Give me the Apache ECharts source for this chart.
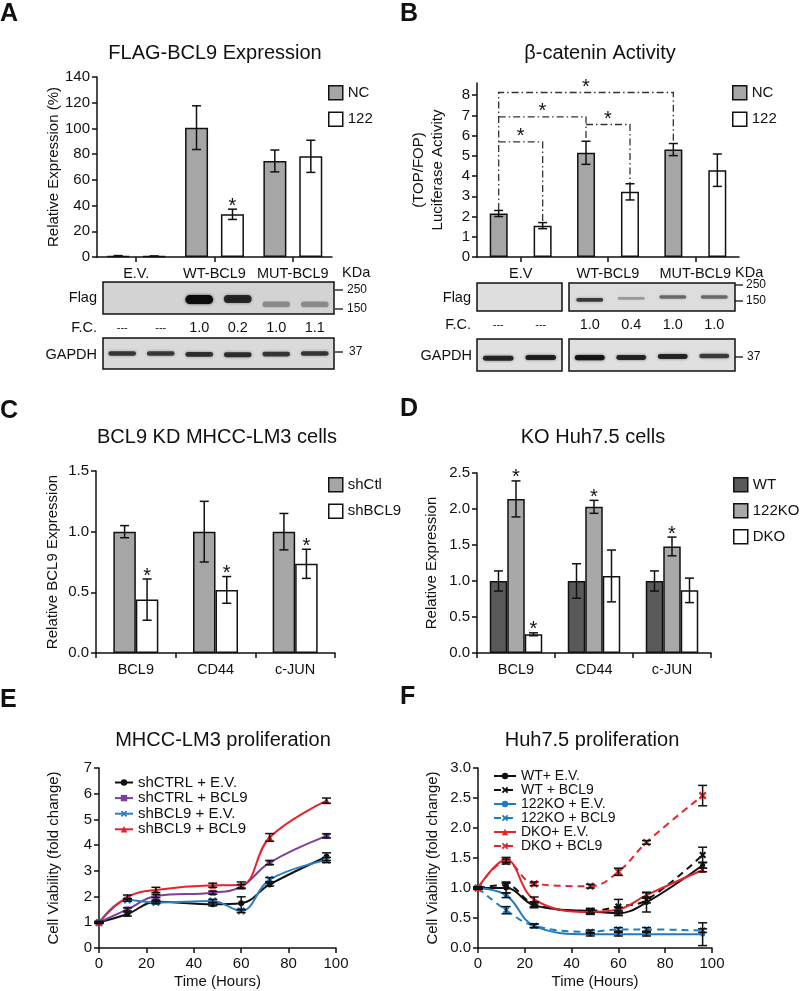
<!DOCTYPE html>
<html><head><meta charset="utf-8">
<script src="https://cdn.jsdelivr.net/npm/echarts@6/dist/echarts.min.js"></script>
<style>html,body{margin:0;padding:0;background:#fff}#c{width:800px;height:991px}</style>
</head><body><div id="c"></div>
<script>
const FONT = "'Liberation Sans', Arial, Helvetica, sans-serif";
const TXT = '#111';

// ---------- Panel A ----------
const catsA = ['E.V.', 'WT-BCL9', 'MUT-BCL9'];
const aNC = [0.8, 100.6, 74.7];
const aNCErr = [0.3, 17, 8.5];
const a122 = [0.6, 33.2, 78.3];
const a122Err = [0.2, 4, 12.5];
const a122Sig = [0, 1, 0];
const blotLanesA = ['1', '2', '3', '4', '5', '6'];
const blotAFlag = [0, 0, 1.0, 0.8, 0.32, 0.32];
const blotAFlagPos = [0.45, 0.45, 0.45, 0.47, 0.3, 0.3];
const blotAFC = ['---', '---', '1.0', '0.2', '1.0', '1.1'];
const blotAGapdh = [0.72, 0.7, 0.76, 0.76, 0.72, 0.72];
const blotAGapdhPos = [0.5, 0.5, 0.47, 0.46, 0.48, 0.5];

// ---------- Panel B ----------
const catsB = ['E.V', 'WT-BCL9', 'MUT-BCL9'];
const bNC = [2.15, 5.15, 5.31];
const bNCErr = [0.15, 0.57, 0.3];
const b122 = [1.55, 3.22, 4.29];
const b122Err = [0.15, 0.4, 0.8];
const yTicksB = [0, 1, 2, 3, 4, 5, 6, 7, 8];
// [leftCat, leftBar, leftLow, rightCat, rightBar, rightLow, height]
const bracketsB = [
  [0, 0, 2.32, 2, 0, 5.62, 8.13],
  [0, 0, 6.93, 1, 0, 5.73, 6.93],
  [0, 0, 5.69, 0, 1, 1.7, 5.69],
  [1, 0, 6.55, 1, 1, 3.64, 6.55]
];
const blotLanesB1 = ['1', '2'];
const blotLanesB2 = ['3', '4', '5', '6'];
const blotBFlag1 = [0, 0];
const blotBFlag2 = [0.7, 0.3, 0.5, 0.5];
const blotBFlag2Pos = [0.4, 0.45, 0.5, 0.5];
const blotBFC1 = ['---', '---'];
const blotBFC2 = ['1.0', '0.4', '1.0', '1.0'];
const blotBGapdh1 = [0.82, 0.85];
const blotBGapdh2 = [0.92, 0.82, 0.82, 0.7];

// ---------- Panel C ----------
const catsC = ['BCL9', 'CD44', 'c-JUN'];
const cCtl = [1.0, 1.0, 1.0];
const cCtlErr = [0.05, 0.25, 0.15];
const cKD = [0.44, 0.52, 0.735];
const cKDErr = [0.17, 0.11, 0.12];
const cKDSig = [1, 1, 1];

// ---------- Panel D ----------
const catsD = ['BCL9', 'CD44', 'c-JUN'];
const dWT = [1.0, 1.0, 1.0];
const dWTErr = [0.14, 0.24, 0.14];
const dKO = [2.14, 2.03, 1.48];
const dKOErr = [0.25, 0.09, 0.13];
const dKOSig = [1, 1, 1];
const dDKO = [0.26, 1.07, 0.87];
const dDKOErr = [0.02, 0.36, 0.17];
const dDKOSig = [1, 0, 0];

// ---------- Panel E ----------
const timesE = [0, 12, 24, 48, 60, 72, 96];
const eCtrlEV = [1.0, 1.32, 1.8, 1.7, 1.74, 2.47, 3.55];
const eCtrlEVErr = [0.03, 0.08, 0.06, 0.06, 0.25, 0.06, 0.15];
const eCtrlBCL9 = [1.0, 1.5, 2.02, 2.15, 2.39, 3.32, 4.36];
const eCtrlBCL9Err = [0.03, 0.06, 0.06, 0.06, 0.08, 0.08, 0.08];
const eKDEV = [0.98, 1.87, 1.77, 1.83, 1.44, 2.66, 3.42];
const eKDEVErr = [0.03, 0.05, 0.05, 0.06, 0.06, 0.08, 0.1];
const eKDBCL9 = [1.0, 1.98, 2.26, 2.44, 2.45, 4.3, 5.73];
const eKDBCL9Err = [0.03, 0.08, 0.1, 0.08, 0.12, 0.15, 0.1];

// ---------- Panel F ----------
const timesF = [0, 12, 24, 48, 60, 72, 96];
const fWTEV = [1.0, 1.0, 0.71, 0.61, 0.58, 0.76, 1.38];
const fWTEVErr = [0.02, 0.08, 0.04, 0.04, 0.04, 0.16, 0.05];
const fWTBCL9 = [1.0, 1.05, 0.73, 0.62, 0.69, 0.8, 1.55];
const fWTBCL9Err = [0.02, 0.05, 0.04, 0.04, 0.12, 0.05, 0.13];
const f122EV = [1.0, 0.88, 0.37, 0.23, 0.23, 0.23, 0.23];
const f122EVErr = [0.02, 0.04, 0.03, 0.03, 0.03, 0.03, 0.19];
const f122BCL9 = [1.0, 0.63, 0.37, 0.27, 0.31, 0.31, 0.29];
const f122BCL9Err = [0.02, 0.06, 0.03, 0.03, 0.03, 0.03, 0.03];
const fDKOEV = [1.0, 1.47, 0.81, 0.6, 0.64, 0.88, 1.3];
const fDKOEVErr = [0.02, 0.04, 0.04, 0.04, 0.04, 0.05, 0.03];
const fDKOBCL9 = [1.0, 1.44, 1.07, 1.03, 1.27, 1.76, 2.54];
const fDKOBCL9Err = [0.02, 0.04, 0.03, 0.03, 0.06, 0.03, 0.17];

// ================= helpers =================
const axisLineStyle = { show: true, lineStyle: { color: TXT, width: 1.5 } };
const axisTickStyle = { show: true, length: 5, lineStyle: { color: TXT, width: 1.5 } };
function labelStyle(extra) {
  return Object.assign({ color: TXT, fontSize: 15, fontFamily: FONT, margin: 7 }, extra || {});
}
const nameStyle = { color: TXT, fontSize: 15, fontFamily: FONT };

function catX(gi, data, align) {
  return {
    type: 'category', gridIndex: gi, data: data,
    axisLine: axisLineStyle,
    axisTick: Object.assign({}, axisTickStyle, { alignWithLabel: !!align }),
    axisLabel: labelStyle({ fontSize: 14.5, margin: 9, interval: 0, hideOverlap: false }),
    splitLine: { show: false }
  };
}
function valY(gi, min, max, interval, name, gap, fixed) {
  return {
    type: 'value', gridIndex: gi, min: min, max: max, interval: interval,
    axisLine: axisLineStyle, axisTick: axisTickStyle,
    axisLabel: labelStyle(fixed ? { formatter: v => v.toFixed(1) } : {}),
    splitLine: { show: false },
    name: name, nameLocation: 'middle', nameGap: gap, nameTextStyle: nameStyle
  };
}
function hiddenCat(gi, data) {
  return { type: 'category', gridIndex: gi, data: data, show: false };
}
function hiddenVal(gi) {
  return { type: 'value', gridIndex: gi, min: 0, max: 1, show: false };
}

function errorSeries(gi, xs, values, errs, offset, sig, starGap) {
  return {
    type: 'custom', xAxisIndex: gi, yAxisIndex: gi, z: 5, silent: true,
    data: values.map((v, i) => [xs ? xs[i] : i, v, errs[i], sig ? sig[i] : 0]),
    encode: { x: 0, y: 1 },
    renderItem: function (params, api) {
      const xv = api.value(0), v = api.value(1), e = api.value(2), s = api.value(3);
      const top = api.coord([xv, v + e]);
      const bot = api.coord([xv, Math.max(0, v - e)]);
      const x = top[0] + offset;
      const cw = 4.5;
      const st = { stroke: TXT, lineWidth: 1.5 };
      const ch = [];
      if (e > 0) {
        ch.push({ type: 'line', shape: { x1: x, y1: top[1], x2: x, y2: bot[1] }, style: st });
        ch.push({ type: 'line', shape: { x1: x - cw, y1: top[1], x2: x + cw, y2: top[1] }, style: st });
        ch.push({ type: 'line', shape: { x1: x - cw, y1: bot[1], x2: x + cw, y2: bot[1] }, style: st });
      }
      if (s) {
        ch.push({ type: 'text', x: x, y: top[1] - (starGap || 3),
          style: { text: '*', fontSize: 20, fontFamily: FONT, fill: TXT, align: 'center', verticalAlign: 'middle' } });
      }
      return { type: 'group', children: ch };
    }
  };
}

function barSeries(gi, name, data, color, width, gap) {
  return {
    type: 'bar', name: name, xAxisIndex: gi, yAxisIndex: gi, data: data,
    barWidth: width, barGap: gap,
    itemStyle: { color: color, borderColor: TXT, borderWidth: 1.5 }
  };
}

function blotSeries(gi, intens, pos, baseH, wFrac, fc) {
  return {
    type: 'custom', xAxisIndex: gi, yAxisIndex: gi, silent: true, z: 3,
    data: intens.map((v, i) => [i, v, pos ? pos[i] : 0.45]),
    encode: { x: 0, y: 2 },
    renderItem: function (params, api) {
      const i = params.dataIndex, v = api.value(1), p = api.value(2);
      const c = api.coord([i, p]);
      const w = api.size([1, 0])[0] * wFrac;
      const ch = [];
      if (v > 0) {
        const h = baseH * (0.45 + 0.55 * v);
        ch.push({ type: 'rect', shape: { x: c[0] - w / 2, y: c[1] - h / 2, width: w, height: h, r: h / 2 },
          style: { fill: 'rgba(12,12,12,' + Math.min(1, v) + ')', shadowBlur: 3, shadowColor: 'rgba(0,0,0,' + (0.7 * v) + ')' } });
      }
      if (fc) {
        const b = api.coord([i, 0]);
        ch.push({ type: 'text', x: c[0], y: b[1] + 14,
          style: { text: fc[i], fontSize: fc[i] === '---' ? 11 : 14.5, fontFamily: FONT, fill: TXT, align: 'center', verticalAlign: 'middle' } });
      }
      return { type: 'group', children: ch };
    }
  };
}

function bracketSeries(gi, brackets, offsets) {
  return {
    type: 'custom', xAxisIndex: gi, yAxisIndex: gi, silent: true, z: 6,
    data: brackets.map((b, i) => [b[0], b[6], i]),
    encode: { x: 0, y: 1 },
    renderItem: function (params, api) {
      const b = brackets[params.dataIndex];
      const l = api.coord([b[0], b[2]]), r = api.coord([b[3], b[5]]), h = api.coord([b[0], b[6]]);
      const xl = l[0] + offsets[b[1]], xr = r[0] + offsets[b[4]];
      const pts = [[xl, l[1]], [xl, h[1]], [xr, h[1]], [xr, r[1]]];
      return { type: 'group', children: [
        { type: 'polyline', shape: { points: pts },
          style: { stroke: '#333', lineWidth: 1.3, fill: null, lineDash: [7, 3, 1.5, 3] } },
        { type: 'text', x: (xl + xr) / 2, y: h[1] - 5,
          style: { text: '*', fontSize: 20, fontFamily: FONT, fill: TXT, align: 'center', verticalAlign: 'middle' } }
      ] };
    }
  };
}

const xSym = 'path://M2,0 L5,3 L8,0 L10,2 L7,5 L10,8 L8,10 L5,7 L2,10 L0,8 L3,5 L0,2 Z';
function lineSeries(gi, name, xs, ys, color, symbol, size, dashed) {
  return {
    type: 'line', name: name, xAxisIndex: gi, yAxisIndex: gi,
    data: ys.map((v, i) => [xs[i], v]),
    smooth: 0.4, symbol: symbol, symbolSize: size, showAllSymbol: true,
    lineStyle: { color: color, width: 2, type: dashed ? [7, 5] : 'solid' },
    itemStyle: { color: color }
  };
}

// ================= graphics =================
function T(text, x, y, size, opts) {
  return Object.assign({ type: 'text', x: x, y: y, silent: true,
    style: Object.assign({ text: text, fontSize: size, fontFamily: FONT, fill: TXT, align: 'left', verticalAlign: 'middle' }, opts || {}) });
}
function dash(x1, x2, y) {
  return { type: 'line', silent: true, shape: { x1: x1, y1: y, x2: x2, y2: y }, style: { stroke: TXT, lineWidth: 1.3 } };
}
const graphics = [
  T('A', 0, 14, 25, { fontWeight: 'bold' }),
  T('B', 400, 14, 25, { fontWeight: 'bold' }),
  T('C', 0, 411, 25, { fontWeight: 'bold' }),
  T('D', 400, 409, 25, { fontWeight: 'bold' }),
  T('E', 0, 700, 25, { fontWeight: 'bold' }),
  T('F', 400, 697, 25, { fontWeight: 'bold' }),
  T('FLAG-BCL9 Expression', 215, 53, 20, { align: 'center' }),
  T('β-catenin Activity', 600, 53, 20, { align: 'center' }),
  T('BCL9 KD MHCC-LM3 cells', 217, 437, 20, { align: 'center' }),
  T('KO Huh7.5 cells', 593, 437, 20, { align: 'center' }),
  T('MHCC-LM3 proliferation', 223, 740, 20, { align: 'center' }),
  T('Huh7.5 proliferation', 592, 740, 20, { align: 'center' }),
  T('KDa', 342, 273, 14.5),
  T('KDa', 735, 273, 14.5),
  // blot labels A
  T('Flag', 97, 298, 14.5, { align: 'right' }),
  T('F.C.', 97, 328, 14.5, { align: 'right' }),
  T('GAPDH', 97, 355, 14.5, { align: 'right' }),
  dash(335, 343, 290), T('250', 347, 290, 12),
  dash(335, 343, 309), T('150', 347, 309, 12),
  dash(335, 343, 352), T('37', 349, 352, 12),
  // blot labels B
  T('Flag', 471, 298, 14.5, { align: 'right' }),
  T('F.C.', 471, 325, 14.5, { align: 'right' }),
  T('GAPDH', 472, 356, 14.5, { align: 'right' }),
  dash(735, 743, 285), T('250', 746, 285, 12),
  dash(735, 743, 301), T('150', 746, 301, 12),
  dash(735, 743, 357), T('37', 747, 357, 12)
];

// ================= option =================
const blotGrid = (l, t, w, h, bg) => ({ left: l, top: t, width: w, height: h, show: true,
  backgroundColor: bg, borderColor: TXT, borderWidth: 1.5 });

const legendBase = {
  orient: 'vertical', itemWidth: 14, itemHeight: 14, itemGap: 11, icon: 'rect', padding: 0,
  itemStyle: { borderColor: TXT, borderWidth: 1.5 },
  textStyle: { fontSize: 15, fontFamily: FONT, color: TXT, lineHeight: 14 }, selectedMode: false
};
const lineLegendBase = {
  orient: 'vertical', itemHeight: 8, selectedMode: false, padding: 0,
  textStyle: { fontSize: 15, fontFamily: FONT, color: TXT }
};

const option = {
  animation: false,
  backgroundColor: '#fff',
  textStyle: { fontFamily: FONT },
  grid: [
    { left: 97, top: 77, width: 235, height: 180 },   // A
    { left: 477, top: 83, width: 262, height: 174 },  // B
    { left: 96, top: 471, width: 239, height: 182 },  // C
    { left: 477, top: 473, width: 234, height: 180 }, // D
    { left: 99, top: 768, width: 237, height: 180 },  // E
    { left: 478, top: 768, width: 234, height: 180 }, // F
    blotGrid(103, 282, 231, 32, '#d3d3d3'),          // A flag
    blotGrid(103, 338, 231, 31, '#dadada'),          // A gapdh
    blotGrid(477, 283, 85, 28, '#dedede'),           // B flag 1
    blotGrid(569, 283, 166, 28, '#dddddd'),          // B flag 2
    blotGrid(477, 339, 85, 32, '#e0e0e0'),           // B gapdh 1
    blotGrid(569, 339, 166, 32, '#e0e0e0')           // B gapdh 2
  ],
  xAxis: [
    catX(0, catsA, true),
    catX(1, catsB, true),
    catX(2, catsC, false),
    catX(3, catsD, false),
    { type: 'value', gridIndex: 4, min: 0, max: 100, interval: 20, axisLine: axisLineStyle, axisTick: axisTickStyle,
      axisLabel: labelStyle({ margin: 8 }), splitLine: { show: false },
      name: 'Time (Hours)', nameLocation: 'middle', nameGap: 26, nameTextStyle: nameStyle },
    { type: 'value', gridIndex: 5, min: 0, max: 100, interval: 20, axisLine: axisLineStyle, axisTick: axisTickStyle,
      axisLabel: labelStyle({ margin: 8 }), splitLine: { show: false },
      name: 'Time (Hours)', nameLocation: 'middle', nameGap: 26, nameTextStyle: nameStyle },
    hiddenCat(6, blotLanesA), hiddenCat(7, blotLanesA),
    hiddenCat(8, blotLanesB1), hiddenCat(9, blotLanesB2),
    hiddenCat(10, blotLanesB1), hiddenCat(11, blotLanesB2)
  ],
  yAxis: [
    valY(0, 0, 140, 20, 'Relative Expression (%)', 35),
    {
      type: 'value', gridIndex: 1, min: 0, max: 8.6,
      axisLine: axisLineStyle,
      axisTick: Object.assign({}, axisTickStyle, { customValues: yTicksB }),
      axisLabel: labelStyle({ customValues: yTicksB }),
      splitLine: { show: false },
      name: '(TOP/FOP)\nLuciferase Activity', nameLocation: 'middle', nameGap: 30,
      nameTextStyle: Object.assign({}, nameStyle, { lineHeight: 19 })
    },
    valY(2, 0, 1.5, 0.5, 'Relative BCL9 Expression', 36, true),
    valY(3, 0, 2.5, 0.5, 'Relative Expression', 38, true),
    valY(4, 0, 7, 1, 'Cell Viability (fold change)', 38),
    valY(5, 0, 3, 0.5, 'Cell Viability (fold change)', 38, true),
    hiddenVal(6), hiddenVal(7), hiddenVal(8), hiddenVal(9), hiddenVal(10), hiddenVal(11)
  ],
  legend: [
    Object.assign({}, legendBase, { data: ['NC', '122'], left: 328, top: 85 }),
    Object.assign({}, legendBase, { data: ['NC', '122'], left: 732, top: 85 }),
    Object.assign({}, legendBase, { data: ['shCtl', 'shBCL9'], left: 328, top: 477 }),
    Object.assign({}, legendBase, { data: ['WT', '122KO', 'DKO'], left: 733, top: 477, itemGap: 10.5 }),
    Object.assign({}, lineLegendBase, { data: ['shCTRL + E.V.', 'shCTRL + BCL9', 'shBCL9 + E.V.', 'shBCL9 + BCL9'],
      left: 114, top: 775, itemWidth: 18, itemGap: 0.6, textStyle: { fontSize: 15, fontFamily: FONT, color: TXT, lineHeight: 15 } }),
    Object.assign({}, lineLegendBase, { data: ['WT+ E.V.', 'WT + BCL9', '122KO + E.V.', '122KO + BCL9', 'DKO+ E.V.', 'DKO + BCL9'],
      left: 493, top: 769, itemWidth: 22, itemGap: 0, textStyle: { fontSize: 14, fontFamily: FONT, color: TXT, lineHeight: 13.8 } })
  ],
  graphic: graphics,
  series: [
    // A
    barSeries(0, 'NC', aNC, '#a6a6a6', 23, '56%'),
    barSeries(0, '122', a122, '#ffffff', 23, '56%'),
    errorSeries(0, null, aNC, aNCErr, -18),
    errorSeries(0, null, a122, a122Err, 18, a122Sig),
    // B
    barSeries(1, 'NC', bNC, '#a6a6a6', 18, '144%'),
    barSeries(1, '122', b122, '#ffffff', 18, '144%'),
    errorSeries(1, null, bNC, bNCErr, -22),
    errorSeries(1, null, b122, b122Err, 22),
    bracketSeries(1, bracketsB, [-22, 22]),
    // C
    barSeries(2, 'shCtl', cCtl, '#a6a6a6', 22.5, '0%'),
    barSeries(2, 'shBCL9', cKD, '#ffffff', 22.5, '0%'),
    errorSeries(2, null, cCtl, cCtlErr, -11.25),
    errorSeries(2, null, cKD, cKDErr, 11.25, cKDSig),
    // D
    barSeries(3, 'WT', dWT, '#595959', 17.5, '0%'),
    barSeries(3, '122KO', dKO, '#a8a8a8', 17.5, '0%'),
    barSeries(3, 'DKO', dDKO, '#ffffff', 17.5, '0%'),
    errorSeries(3, null, dWT, dWTErr, -17.5),
    errorSeries(3, null, dKO, dKOErr, 0, dKOSig),
    errorSeries(3, null, dDKO, dDKOErr, 17.5, dDKOSig),
    // E
    lineSeries(4, 'shCTRL + E.V.', timesE, eCtrlEV, '#111111', 'circle', 6),
    lineSeries(4, 'shCTRL + BCL9', timesE, eCtrlBCL9, '#7b3f9e', 'rect', 6),
    lineSeries(4, 'shBCL9 + E.V.', timesE, eKDEV, '#2b80c3', xSym, 8),
    lineSeries(4, 'shBCL9 + BCL9', timesE, eKDBCL9, '#e8222a', 'triangle', 7),
    errorSeries(4, timesE, eCtrlEV, eCtrlEVErr, 0),
    errorSeries(4, timesE, eCtrlBCL9, eCtrlBCL9Err, 0),
    errorSeries(4, timesE, eKDEV, eKDEVErr, 0),
    errorSeries(4, timesE, eKDBCL9, eKDBCL9Err, 0),
    // F
    lineSeries(5, 'WT+ E.V.', timesF, fWTEV, '#111111', 'circle', 5),
    lineSeries(5, 'WT + BCL9', timesF, fWTBCL9, '#111111', xSym, 7, true),
    lineSeries(5, '122KO + E.V.', timesF, f122EV, '#1f7bc2', 'circle', 5),
    lineSeries(5, '122KO + BCL9', timesF, f122BCL9, '#1f7bc2', xSym, 7, true),
    lineSeries(5, 'DKO+ E.V.', timesF, fDKOEV, '#e52329', 'triangle', 6),
    lineSeries(5, 'DKO + BCL9', timesF, fDKOBCL9, '#e52329', xSym, 8, true),
    errorSeries(5, timesF, fWTEV, fWTEVErr, 0),
    errorSeries(5, timesF, fWTBCL9, fWTBCL9Err, 0),
    errorSeries(5, timesF, f122EV, f122EVErr, 0),
    errorSeries(5, timesF, f122BCL9, f122BCL9Err, 0),
    errorSeries(5, timesF, fDKOEV, fDKOEVErr, 0),
    errorSeries(5, timesF, fDKOBCL9, fDKOBCL9Err, 0),
    // blots
    blotSeries(6, blotAFlag, blotAFlagPos, 9, 0.72, blotAFC),
    blotSeries(7, blotAGapdh, blotAGapdhPos, 5.5, 0.72),
    blotSeries(8, blotBFlag1, null, 4, 0.65, blotBFC1),
    blotSeries(9, blotBFlag2, blotBFlag2Pos, 4.5, 0.65, blotBFC2),
    blotSeries(10, blotBGapdh1, [0.4, 0.42], 5.5, 0.72),
    blotSeries(11, blotBGapdh2, [0.42, 0.42, 0.45, 0.47], 5.5, 0.72)
  ]
};

const chart = echarts.init(document.getElementById('c'), null, { renderer: 'canvas' });
chart.setOption(option);
</script></body></html>
